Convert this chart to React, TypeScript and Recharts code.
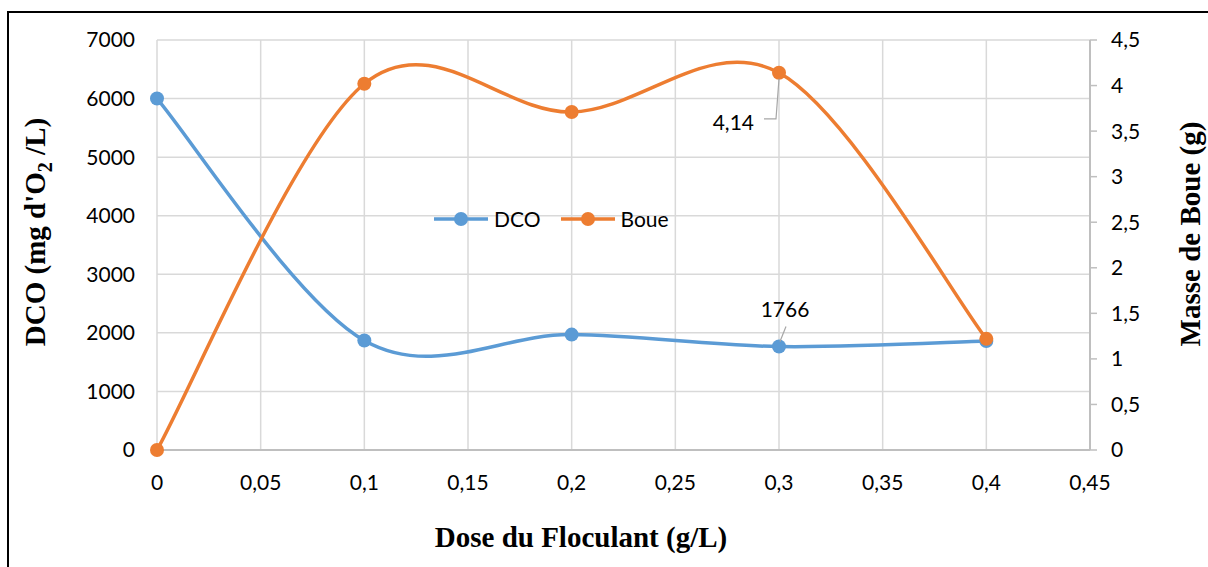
import { LineChart, Line, XAxis, YAxis, CartesianGrid, Legend, LabelList } from 'recharts';

const doses = [0, 0.1, 0.2, 0.3, 0.4];
const dcoValues = [6000, 1870, 1970, 1766, 1860];
const boueValues = [0, 4.02, 3.71, 4.14, 1.22];

const doseTicks = [0, 0.05, 0.1, 0.15, 0.2, 0.25, 0.3, 0.35, 0.4, 0.45];
const dcoTicks = [0, 1000, 2000, 3000, 4000, 5000, 6000, 7000];
const boueTicks = [0, 0.5, 1, 1.5, 2, 2.5, 3, 3.5, 4, 4.5];
const legendOrder = ['DCO', 'Boue'];

const rows = doses.map((dose, i) => ({ dose, dco: dcoValues[i], boue: boueValues[i] }));

const BLUE = '#5B9BD5';
const ORANGE = '#ED7D31';
const GRID = '#d9d9d9';
const AXIS = '#bfbfbf';
const SANS = 'Lato, "Open Sans", sans-serif';
const SERIF = '"Liberation Serif", "Times New Roman", serif';

const comma = (v: number) => String(v).replace('.', ',');

// Smoothed line like a spreadsheet "smooth line": uniform Catmull-Rom through the points.
function smoothCurve(context: any) {
  let pts: number[][] = [];
  return {
    areaStart() {},
    areaEnd() {},
    lineStart() {
      pts = [];
    },
    point(x: number, y: number) {
      pts.push([+x, +y]);
    },
    lineEnd() {
      if (!pts.length) return;
      context.moveTo(pts[0][0], pts[0][1]);
      for (let i = 0; i < pts.length - 1; i++) {
        const p0 = pts[i - 1] || pts[i];
        const p1 = pts[i];
        const p2 = pts[i + 1];
        const p3 = pts[i + 2] || p2;
        context.bezierCurveTo(
          p1[0] + (p2[0] - p0[0]) / 6,
          p1[1] + (p2[1] - p0[1]) / 6,
          p2[0] - (p3[0] - p1[0]) / 6,
          p2[1] - (p3[1] - p1[1]) / 6,
          p2[0],
          p2[1],
        );
      }
    },
  };
}

function LegendRow({ payload }: any) {
  const items = [...(payload || [])].sort(
    (a: any, b: any) => legendOrder.indexOf(a.value) - legendOrder.indexOf(b.value),
  );
  return (
    <div style={{ display: 'flex', alignItems: 'center', fontFamily: SANS, fontSize: 21, color: '#000' }}>
      {items.map((e: any, i: number) => (
        <div key={e.value} style={{ display: 'flex', alignItems: 'center', marginLeft: i ? 20 : 0 }}>
          <svg width={54} height={18}>
            <line x1={0} y1={9} x2={54} y2={9} stroke={e.color} strokeWidth={3.5} />
            <circle cx={27} cy={9} r={7} fill={e.color} />
          </svg>
          <span style={{ marginLeft: 6 }}>{e.value}</span>
        </div>
      ))}
    </div>
  );
}

function BoueLabel(props: any) {
  const { x, y, value, index } = props;
  if (index !== 3 || x == null) return null;
  return (
    <g>
      <polyline
        points={`${x},${y + 6} ${x - 3},${y + 46} ${x - 15},${y + 46}`}
        fill="none"
        stroke="#a6a6a6"
        strokeWidth={1.2}
      />
      <text x={x - 25} y={y + 57} textAnchor="end" fontFamily={SANS} fontSize={21} fill="#000">
        {comma(value)}
      </text>
    </g>
  );
}

function DcoLabel(props: any) {
  const { x, y, value, index } = props;
  if (index !== 3 || x == null) return null;
  return (
    <g>
      <line x1={x + 1} y1={y - 5} x2={x + 7} y2={y - 20} stroke="#a6a6a6" strokeWidth={1.2} />
      <text x={x + 6} y={y - 30} textAnchor="middle" fontFamily={SANS} fontSize={21} fill="#000">
        {comma(value)}
      </text>
    </g>
  );
}

export default function App() {
  const tick = { fontFamily: SANS, fontSize: 21, fill: '#000' };
  return (
    <div style={{ position: 'absolute', left: 0, top: 0, width: 1208, height: 567, overflow: 'hidden', background: '#fff' }}>
      <div
        style={{
          position: 'absolute', left: 7, top: 11, width: 1400, height: 800,
          border: '2px solid #000', boxSizing: 'border-box',
        }}
      />
      <div style={{ position: 'absolute', left: 0, top: 0 }}>
        <LineChart width={1208} height={567} data={rows} margin={{ top: 40, right: 18, bottom: 57, left: 57 }}>
          <CartesianGrid yAxisId="left" stroke={GRID} strokeWidth={1.5} />
          <XAxis
            dataKey="dose"
            type="number"
            domain={[0, 0.45]}
            ticks={doseTicks}
            interval={0}
            tickFormatter={comma}
            tick={tick}
            tickLine={false}
            tickSize={0}
            tickMargin={25}
            axisLine={{ stroke: AXIS, strokeWidth: 2 }}
            height={60}
            label={{
              content: () => (
                <text x={581} y={547} textAnchor="middle" fontFamily={SERIF} fontWeight="bold" fontSize={29} fill="#000">
                  Dose du Floculant (g/L)
                </text>
              ),
            }}
          />
          <YAxis
            yAxisId="left"
            domain={[0, 7000]}
            ticks={dcoTicks}
            interval={0}
            tick={tick}
            tickLine={false}
            tickSize={0}
            tickMargin={22}
            axisLine={false}
            width={100}
            label={{
              content: () => (
                <text
                  x={45}
                  y={232}
                  transform="rotate(-90, 45, 232)"
                  textAnchor="middle"
                  fontFamily={SERIF}
                  fontWeight="bold"
                  fontSize={29}
                  fill="#000"
                >
                  DCO (mg d'O
                  <tspan dy={7} fontSize={20}>2</tspan>
                  <tspan dy={-7}> /L)</tspan>
                </text>
              ),
            }}
          />
          <YAxis
            yAxisId="right"
            orientation="right"
            domain={[0, 4.5]}
            ticks={boueTicks}
            interval={0}
            tickFormatter={comma}
            tick={{ ...tick, textAnchor: 'start' }}
            tickLine={{ stroke: AXIS, strokeWidth: 1.5 }}
            tickSize={7}
            tickMargin={14}
            axisLine={{ stroke: AXIS, strokeWidth: 2 }}
            width={100}
            label={{
              content: () => (
                <text
                  x={1200}
                  y={234}
                  transform="rotate(-90, 1200, 234)"
                  textAnchor="middle"
                  fontFamily={SERIF}
                  fontWeight="bold"
                  fontSize={29}
                  fill="#000"
                >
                  Masse de Boue (g)
                </text>
              ),
            }}
          />
          <Legend
            layout="horizontal"
            verticalAlign="middle"
            align="center"
            content={<LegendRow />}
            wrapperStyle={{ left: 434, top: 206, width: 'auto' }}
          />
          <Line
            yAxisId="left"
            dataKey="dco"
            name="DCO"
            type={smoothCurve as any}
            stroke={BLUE}
            strokeWidth={3.5}
            dot={{ r: 7, fill: BLUE, stroke: 'none' }}
            activeDot={false}
            isAnimationActive={false}
          >
            <LabelList dataKey="dco" content={<DcoLabel />} />
          </Line>
          <Line
            yAxisId="right"
            dataKey="boue"
            name="Boue"
            type={smoothCurve as any}
            stroke={ORANGE}
            strokeWidth={3.5}
            dot={{ r: 7, fill: ORANGE, stroke: 'none' }}
            activeDot={false}
            isAnimationActive={false}
          >
            <LabelList dataKey="boue" content={<BoueLabel />} />
          </Line>
        </LineChart>
      </div>
    </div>
  );
}
